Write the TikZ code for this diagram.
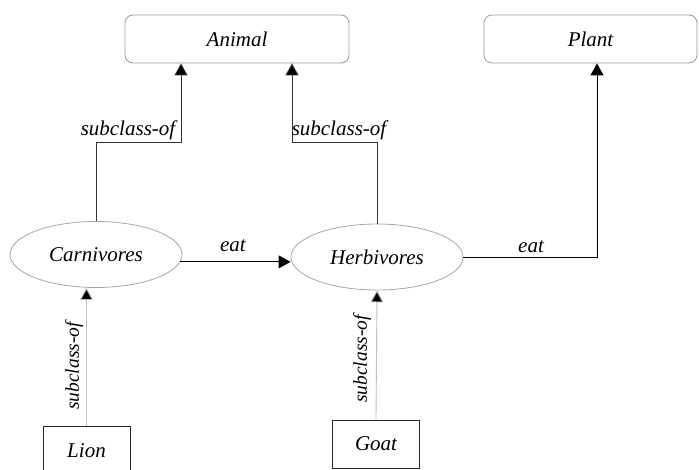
\documentclass[tikz,border=0pt]{standalone}
\usepackage{fontspec}
\setmainfont{Liberation Serif}
\usetikzlibrary{arrows.meta,shapes.geometric}
\begin{document}
\begin{tikzpicture}[x=1pt,y=-1pt,
  every node/.style={font=\fontsize{21}{25}\selectfont\itshape, inner sep=0pt},
  classbox/.style={draw=black!40, line width=0.8pt, rounded corners=8pt, minimum width=#1, minimum height=48},
  concept/.style={draw=black!35, line width=0.8pt, ellipse, minimum width=172, minimum height=66},
  instance/.style={draw=black!85, line width=0.9pt, minimum width=87, minimum height=#1},
  link/.style={line width=0.9pt, draw=black!80, -{Triangle[width=13pt,length=12pt,fill=black]}},
  lightlink/.style={link, draw=black!25},
  vlabel/.style={font=\fontsize{19.5}{23}\selectfont\itshape, rotate=90}
]
\useasboundingbox (0,0) rectangle (699,469);

% classes
\node[classbox=224] (animal) at (237,39) {Animal};
\node[classbox=213] (plant) at (590.5,39) {Plant};

% concepts
\node[concept] (carn) at (96,254.5) {Carnivores};
\node[concept] (herb) at (377,257) {Herbivores};

% instances
\node[instance=50] (lion) at (86.5,451) {Lion};
\node[instance=48] (goat) at (376,444) {Goat};

% bend points
\coordinate (ka) at (181,142);
\coordinate (kb) at (292,142);
\coordinate (kp) at (597,257);

% subclass-of links to Animal
\draw[link] (carn.north) -- (carn.north |- ka) -- (ka) -- (ka |- animal.south);
\node at (128,130) {subclass-of};
\draw[link] (herb.north) -- (herb.north |- kb) -- (kb) -- (kb |- animal.south);
\node at (339,130) {subclass-of};

% eat links
\draw[link, draw=black] (carn.-5) -- (carn.-5 -| herb.west);
\node at (233,246) {eat};
\draw[link, draw=black] (herb.east) -- (kp) -- (kp |- plant.south);
\node at (531,247) {eat};

% instance links
\draw[lightlink] (lion.north) -- (lion.north |- carn.south);
\node[vlabel] at (74,366) {subclass-of};
\draw[lightlink] (goat.north) -- (herb.south);
\node[vlabel] at (362,359) {subclass-of};
\end{tikzpicture}
\end{document}
